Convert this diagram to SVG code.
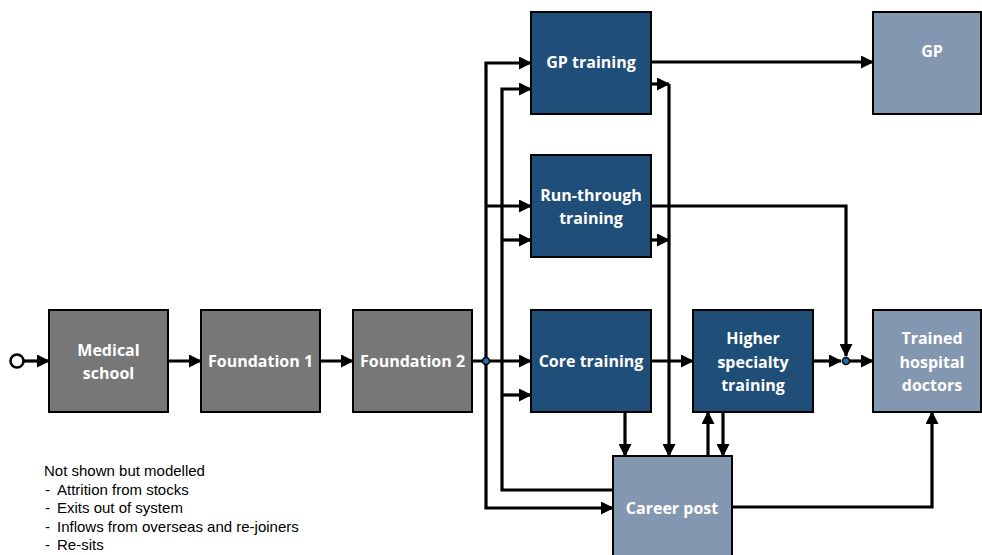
<svg xmlns="http://www.w3.org/2000/svg" width="982" height="555" viewBox="0 0 982 555">
<style>
.box{stroke:#000;stroke-width:2}
.g{fill:#777777}
.d{fill:#1F4E79}
.l{fill:#8497B0}
.t{font-family:"Open Sans","Liberation Sans",sans-serif;font-weight:bold;font-size:16px;fill:#fff;text-anchor:middle}
.c{fill:none;stroke:#000;stroke-width:3.2}
.a{marker-end:url(#ah)}
.note{font-family:"Liberation Sans",Arial,sans-serif;font-size:15px;fill:#000}
</style>
<defs>
<marker id="ah" markerUnits="userSpaceOnUse" markerWidth="13" markerHeight="13" refX="12" refY="6.5" orient="auto">
<path d="M0,0 L13,6.5 L0,13 z" fill="#000"/>
</marker>
</defs>
<rect width="982" height="555" fill="#fff"/>
<g id="connectors">
<circle cx="17" cy="361" r="6.5" fill="#fff" stroke="#000" stroke-width="2.5"/>
<path class="c a" d="M23.5,361 H49"/>
<path class="c a" d="M168,361 H201"/>
<path class="c a" d="M320,361 H353"/>
<path class="c a" d="M472,361 H531"/>
<path class="c a" d="M486,361 V63 H531"/>
<path class="c a" d="M486,206 H531"/>
<path class="c a" d="M486,361 V508 H613"/>
<path class="c a" d="M613,490 H502 V89 H531"/>
<path class="c a" d="M502,240 H531"/>
<path class="c a" d="M502,395 H531"/>
<path class="c a" d="M651,84 H669"/>
<path class="c a" d="M651,240 H669"/>
<path class="c a" d="M669,84 V456"/>
<path class="c a" d="M651,62 H873"/>
<path class="c a" d="M651,206 H846 V356"/>
<path class="c a" d="M651,361 H693"/>
<path class="c a" d="M813,361 H841"/>
<path class="c a" d="M846,361 H873"/>
<path class="c a" d="M625,412 V456"/>
<path class="c a" d="M708,456 V412"/>
<path class="c a" d="M723,412 V456"/>
<path class="c a" d="M732,507 H932 V412"/>
<circle cx="486" cy="361" r="3.5" fill="#1F6FB5" stroke="#000" stroke-width="1.5"/>
<circle cx="846" cy="361" r="3.5" fill="#1F6FB5" stroke="#000" stroke-width="1.5"/>
</g>
<g id="medical-school"><rect class="box g" x="49" y="310" width="119" height="102"/><text class="t" x="108.5" y="356">Medical</text><text class="t" x="108.5" y="379">school</text></g>
<g id="foundation-1"><rect class="box g" x="201" y="310" width="119" height="102"/><text class="t" x="260.5" y="367">Foundation 1</text></g>
<g id="foundation-2"><rect class="box g" x="353" y="310" width="119" height="102"/><text class="t" x="412.5" y="367">Foundation 2</text></g>
<g id="gp-training"><rect class="box d" x="531" y="12" width="120" height="102"/><text class="t" x="591" y="68">GP training</text></g>
<g id="run-through-training"><rect class="box d" x="531" y="155" width="120" height="102"/><text class="t" x="591" y="201">Run-through</text><text class="t" x="591" y="224">training</text></g>
<g id="core-training"><rect class="box d" x="531" y="310" width="120" height="102"/><text class="t" x="591" y="367">Core training</text></g>
<g id="higher-specialty-training"><rect class="box d" x="693" y="310" width="120" height="102"/><text class="t" x="753" y="344">Higher</text><text class="t" x="753" y="368">specialty</text><text class="t" x="753" y="391">training</text></g>
<g id="gp"><rect class="box l" x="873" y="12" width="108" height="102"/><text class="t" x="932" y="57">GP</text></g>
<g id="trained-hospital-doctors"><rect class="box l" x="873" y="310" width="108" height="102"/><text class="t" x="932" y="344">Trained</text><text class="t" x="932" y="368">hospital</text><text class="t" x="932" y="391">doctors</text></g>
<g id="career-post"><rect class="box l" x="613" y="456" width="119" height="106"/><text class="t" x="672" y="514">Career post</text></g>
<g id="note">
<text class="note" x="44" y="476">Not shown but modelled</text>
<text class="note" x="45" y="494.5">-</text><text class="note" x="57" y="494.5">Attrition from stocks</text>
<text class="note" x="45" y="513">-</text><text class="note" x="57" y="513">Exits out of system</text>
<text class="note" x="45" y="531.5">-</text><text class="note" x="57" y="531.5">Inflows from overseas and re-joiners</text>
<text class="note" x="45" y="550">-</text><text class="note" x="57" y="550">Re-sits</text>
</g>
</svg>
